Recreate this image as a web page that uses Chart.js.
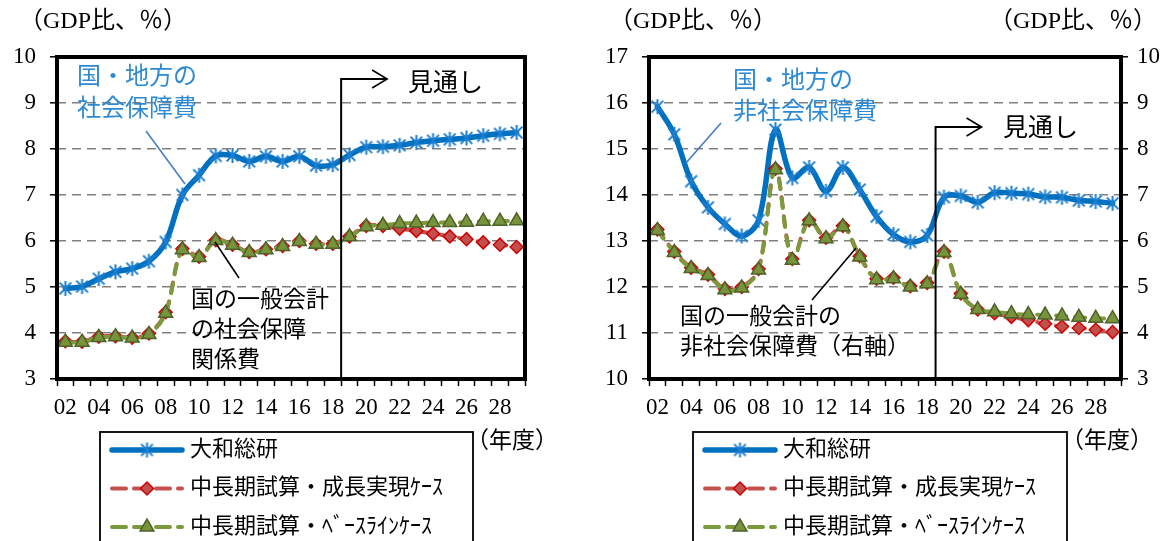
<!DOCTYPE html>
<html>
<head>
<meta charset="utf-8">
<script src="https://cdn.jsdelivr.net/npm/chart.js@4.4.1/dist/chart.umd.min.js"></script>
<style>
  html, body { margin: 0; padding: 0; background: #fff; }
  #wrap { position: relative; width: 1169px; height: 541px; overflow: hidden; }
  canvas { position: absolute; top: 0; }
  #left { left: 0; }
  #right { left: 585px; }
</style>
</head>
<body>
<div id="wrap">
  <canvas id="left" width="585" height="541"></canvas>
  <canvas id="right" width="584" height="541"></canvas>
</div>
<script>
// Fiscal years 2002-2029 (two-digit labels)
const years = ['02','03','04','05','06','07','08','09','10','11','12','13','14','15',
               '16','17','18','19','20','21','22','23','24','25','26','27','28','29'];
const yearTicks = ['02','04','06','08','10','12','14','16','18','20','22','24','26','28'];
const lastActual = '18';

const seriesNames = ['大和総研', '中長期試算・成長実現ｹｰｽ', '中長期試算・ﾍﾞｰｽﾗｲﾝｹｰｽ'];

// Social security spending (% of GDP)
const socDaiwa  = [4.97, 5.01, 5.18, 5.33, 5.40, 5.56, 5.98, 7.00, 7.43, 7.85, 7.86, 7.73, 7.84, 7.73,
                   7.84, 7.64, 7.66, 7.87, 8.04, 8.05, 8.08, 8.14, 8.18, 8.21, 8.24, 8.29, 8.33, 8.36];
const socGrowth = [3.82, 3.81, 3.92, 3.93, 3.90, 3.99, 4.45, 5.83, 5.66, 6.02, 5.92, 5.76, 5.82, 5.89,
                   6.00, 5.94, 5.94, 6.10, 6.33, 6.33, 6.27, 6.22, 6.16, 6.10, 6.04, 5.97, 5.92, 5.87];
const socBase   = [3.80, 3.80, 3.90, 3.92, 3.89, 3.97, 4.43, 5.81, 5.64, 6.01, 5.91, 5.75, 5.81, 5.88,
                   5.99, 5.93, 5.93, 6.09, 6.31, 6.34, 6.38, 6.39, 6.40, 6.40, 6.41, 6.43, 6.43, 6.44];

// Non-social-security spending (% of GDP); central government series use the right axis
const nonDaiwa  = [15.92, 15.32, 14.30, 13.73, 13.37, 13.11, 13.45, 15.42, 14.37, 14.60, 14.08, 14.60, 14.12, 13.53,
                   13.14, 12.98, 13.12, 13.95, 13.98, 13.84, 14.05, 14.04, 14.02, 13.96, 13.95, 13.88, 13.86, 13.82];
const nonGrowth = [6.25, 5.77, 5.42, 5.27, 4.96, 5.00, 5.39, 7.57, 5.61, 6.45, 6.07, 6.33, 5.67, 5.18,
                   5.20, 5.02, 5.09, 5.77, 4.86, 4.51, 4.43, 4.35, 4.28, 4.20, 4.14, 4.11, 4.07, 4.02];
const nonBase   = [6.23, 5.75, 5.40, 5.25, 4.94, 4.98, 5.37, 7.55, 5.58, 6.44, 6.05, 6.31, 5.65, 5.16,
                   5.18, 5.00, 5.07, 5.75, 4.84, 4.51, 4.46, 4.42, 4.40, 4.39, 4.37, 4.34, 4.32, 4.31];

const FONT = '"Liberation Serif", "Noto Sans CJK JP", serif';
Chart.defaults.font.family = FONT;
Chart.defaults.font.size = 23;
Chart.defaults.color = '#000';

// Asterisk marker (X with a vertical bar)
function asteriskMarker(size, color, lw) {
  const c = document.createElement('canvas');
  c.width = size; c.height = size;
  const g = c.getContext('2d');
  const m = size / 2, r = size / 2 - 1, d = r * 0.78;
  g.strokeStyle = color; g.lineWidth = lw; g.lineCap = 'butt';
  g.beginPath();
  g.moveTo(m, m - r); g.lineTo(m, m + r);
  g.moveTo(m - d, m - d); g.lineTo(m + d, m + d);
  g.moveTo(m + d, m - d); g.lineTo(m - d, m + d);
  g.stroke();
  return c;
}
const star = asteriskMarker(17, '#1C7ED0', 2);

function datasets(a, b, c, axis2) {
  return [
    { label: seriesNames[0], data: a, yAxisID: 'y', order: 3,
      borderColor: '#0070C0', borderWidth: 5.5, borderCapStyle: 'round', tension: 0.35,
      pointStyle: star, pointRadius: 8, pointBorderWidth: 0,
      pointBackgroundColor: '#1C7ED0', pointBorderColor: '#1C7ED0' },
    { label: seriesNames[1], data: b, yAxisID: axis2, order: 2,
      borderColor: '#C5504D', borderWidth: 4, borderDash: [10, 9], borderCapStyle: 'round', tension: 0.35,
      pointStyle: 'rectRot', pointRadius: 6.5, pointBorderWidth: 1.5,
      pointBackgroundColor: '#C0504D', pointBorderColor: '#D40000' },
    { label: seriesNames[2], data: c, yAxisID: axis2, order: 1,
      borderColor: '#7A9A3C', borderWidth: 4, borderDash: [10, 9], borderCapStyle: 'round', tension: 0.35,
      pointStyle: 'triangle', pointRadius: 8, pointBorderWidth: 1.5,
      pointBackgroundColor: '#77933C', pointBorderColor: '#4F6228' }
  ];
}

function valueAxis(min, max, pos, width, pad, onArea) {
  return {
    position: pos, min: min, max: max,
    ticks: { stepSize: 1, padding: pad, font: { size: 23 } },
    grid: {
      drawOnChartArea: onArea,
      color: ctx => (ctx.tick && (ctx.tick.value === min || ctx.tick.value === max)) ? 'rgba(0,0,0,0)' : '#808080',
      lineWidth: 1.6, tickColor: '#000', tickLength: 7, tickWidth: 1.5, tickBorderDash: []
    },
    border: { display: false, dash: [9, 6] },
    afterFit: s => { s.width = width; }
  };
}

const yearAxis = {
  type: 'category', offset: true,
  grid: { offset: true, drawOnChartArea: false, tickLength: 7, tickColor: '#000', tickWidth: 1.5, tickBorderDash: [] },
  border: { display: false },
  ticks: { autoSkip: false, maxRotation: 0, padding: 8, font: { size: 23 },
           callback: function (v, i) { const l = years[i]; return yearTicks.includes(l) ? l : ''; } },
  afterFit: s => { s.height = 45; }
};

// Frame, outlook marker, callouts and legend
const notes = {
  id: 'notes',
  afterDatasetsDraw(chart, args, o) {
    const { ctx, chartArea: a, scales: { x } } = chart;
    const i = years.indexOf(lastActual);
    const xs = (x.getPixelForValue(i) + x.getPixelForValue(i + 1)) / 2;
    ctx.save();
    ctx.strokeStyle = '#000'; ctx.lineWidth = 2;
    ctx.beginPath();
    ctx.moveTo(xs, a.bottom); ctx.lineTo(xs, o.arrowY); ctx.lineTo(xs + 46, o.arrowY);
    ctx.stroke();
    ctx.lineWidth = 1.6;
    ctx.beginPath();
    ctx.moveTo(xs + 31, o.arrowY - 9); ctx.lineTo(xs + 46, o.arrowY); ctx.lineTo(xs + 31, o.arrowY + 9);
    ctx.stroke();
    ctx.restore();
  },
  afterDraw(chart, args, o) {
    const { ctx, chartArea: a } = chart;
    ctx.save();
    ctx.strokeStyle = '#000'; ctx.lineWidth = 4;
    ctx.strokeRect(a.left, a.top, a.right - a.left, a.bottom - a.top);

    o.leaders.forEach(l => {
      ctx.strokeStyle = l.color; ctx.lineWidth = 1.6;
      ctx.beginPath(); ctx.moveTo(l.x1, l.y1); ctx.lineTo(l.x2, l.y2); ctx.stroke();
    });

    ctx.textBaseline = 'middle'; ctx.textAlign = 'left';
    o.texts.forEach(t => {
      ctx.fillStyle = t.color || '#000';
      ctx.font = (t.size || 23) + 'px ' + FONT;
      ctx.fillText(t.t, t.x, t.y);
    });

    // legend
    const L = o.legend;
    ctx.strokeStyle = '#000'; ctx.lineWidth = 1.8;
    ctx.strokeRect(L.x, L.y, L.w, 140);
    chart.data.datasets.forEach((ds, k) => {
      const y = L.y + 18 + k * 38.5;
      const x0 = L.x + 12, x1 = L.x + 82;
      ctx.save();
      ctx.strokeStyle = ds.borderColor; ctx.lineWidth = ds.borderWidth;
      ctx.lineCap = 'round'; ctx.setLineDash(ds.borderDash ? [14, 8] : []);
      ctx.beginPath(); ctx.moveTo(x0, y); ctx.lineTo(x1, y); ctx.stroke();
      ctx.restore();
      ctx.save();
      ctx.fillStyle = ds.pointBackgroundColor; ctx.strokeStyle = ds.pointBorderColor;
      ctx.lineWidth = ds.pointBorderWidth;
      Chart.helpers.drawPoint(ctx, { pointStyle: ds.pointStyle, radius: ds.pointRadius,
        borderWidth: ds.pointBorderWidth, rotation: 0 }, (x0 + x1) / 2, y);
      ctx.restore();
      ctx.fillStyle = '#000'; ctx.font = '22px ' + FONT;
      ctx.textBaseline = 'middle';
      ctx.fillText(ds.label, L.x + 90, y);
    });
    ctx.restore();
  }
};

const BLUE_TXT = '#2E8AD3', BLUE_LINE = '#4A7EC0';

new Chart(document.getElementById('left'), {
  type: 'line',
  data: { labels: years, datasets: datasets(socDaiwa, socGrowth, socBase, 'y') },
  options: {
    responsive: false, animation: false, events: [],
    layout: { padding: { left: 0, right: 60, top: 57, bottom: 117 } },
    plugins: {
      legend: { display: false }, tooltip: { enabled: false },
      notes: {
        arrowY: 79,
        texts: [
          { t: '（GDP比、％）', x: 19, y: 22, size: 24 },
          { t: '国・地方の', x: 77, y: 78, color: BLUE_TXT, size: 24 },
          { t: '社会保障費', x: 77, y: 110, color: BLUE_TXT, size: 24 },
          { t: '見通し', x: 408, y: 84, size: 25 },
          { t: '国の一般会計', x: 191, y: 301 },
          { t: 'の社会保障', x: 191, y: 331 },
          { t: '関係費', x: 191, y: 361 },
          { t: '（年度）', x: 466, y: 442 }
        ],
        leaders: [
          { x1: 146, y1: 131, x2: 185, y2: 184, color: BLUE_LINE },
          { x1: 215, y1: 242, x2: 239, y2: 278, color: '#000' }
        ],
        legend: { x: 100, y: 432, w: 373 }
      }
    },
    scales: { x: yearAxis, y: valueAxis(3, 10, 'left', 57, 14, true) }
  },
  plugins: [notes]
});

new Chart(document.getElementById('right'), {
  type: 'line',
  data: { labels: years, datasets: datasets(nonDaiwa, nonGrowth, nonBase, 'y2') },
  options: {
    responsive: false, animation: false, events: [],
    layout: { padding: { left: 0, right: 0, top: 57, bottom: 117 } },
    plugins: {
      legend: { display: false }, tooltip: { enabled: false },
      notes: {
        arrowY: 127,
        texts: [
          { t: '（GDP比、％）', x: 24, y: 22, size: 24 },
          { t: '（GDP比、％）', x: 404, y: 22, size: 24 },
          { t: '国・地方の', x: 148, y: 82, color: BLUE_TXT, size: 24 },
          { t: '非社会保障費', x: 148, y: 113, color: BLUE_TXT, size: 24 },
          { t: '見通し', x: 418, y: 129, size: 25 },
          { t: '国の一般会計の', x: 95, y: 318 },
          { t: '非社会保障費（右軸）', x: 95, y: 348 },
          { t: '（年度）', x: 476, y: 442 }
        ],
        leaders: [
          { x1: 136, y1: 123, x2: 101, y2: 163, color: BLUE_LINE },
          { x1: 271, y1: 248, x2: 227, y2: 300, color: '#000' }
        ],
        legend: { x: 108, y: 432, w: 374 }
      }
    },
    scales: {
      x: yearAxis,
      y: valueAxis(10, 17, 'left', 64, 14, true),
      y2: valueAxis(3, 10, 'right', 48, 9, false)
    }
  },
  plugins: [notes]
});
</script>
</body>
</html>
